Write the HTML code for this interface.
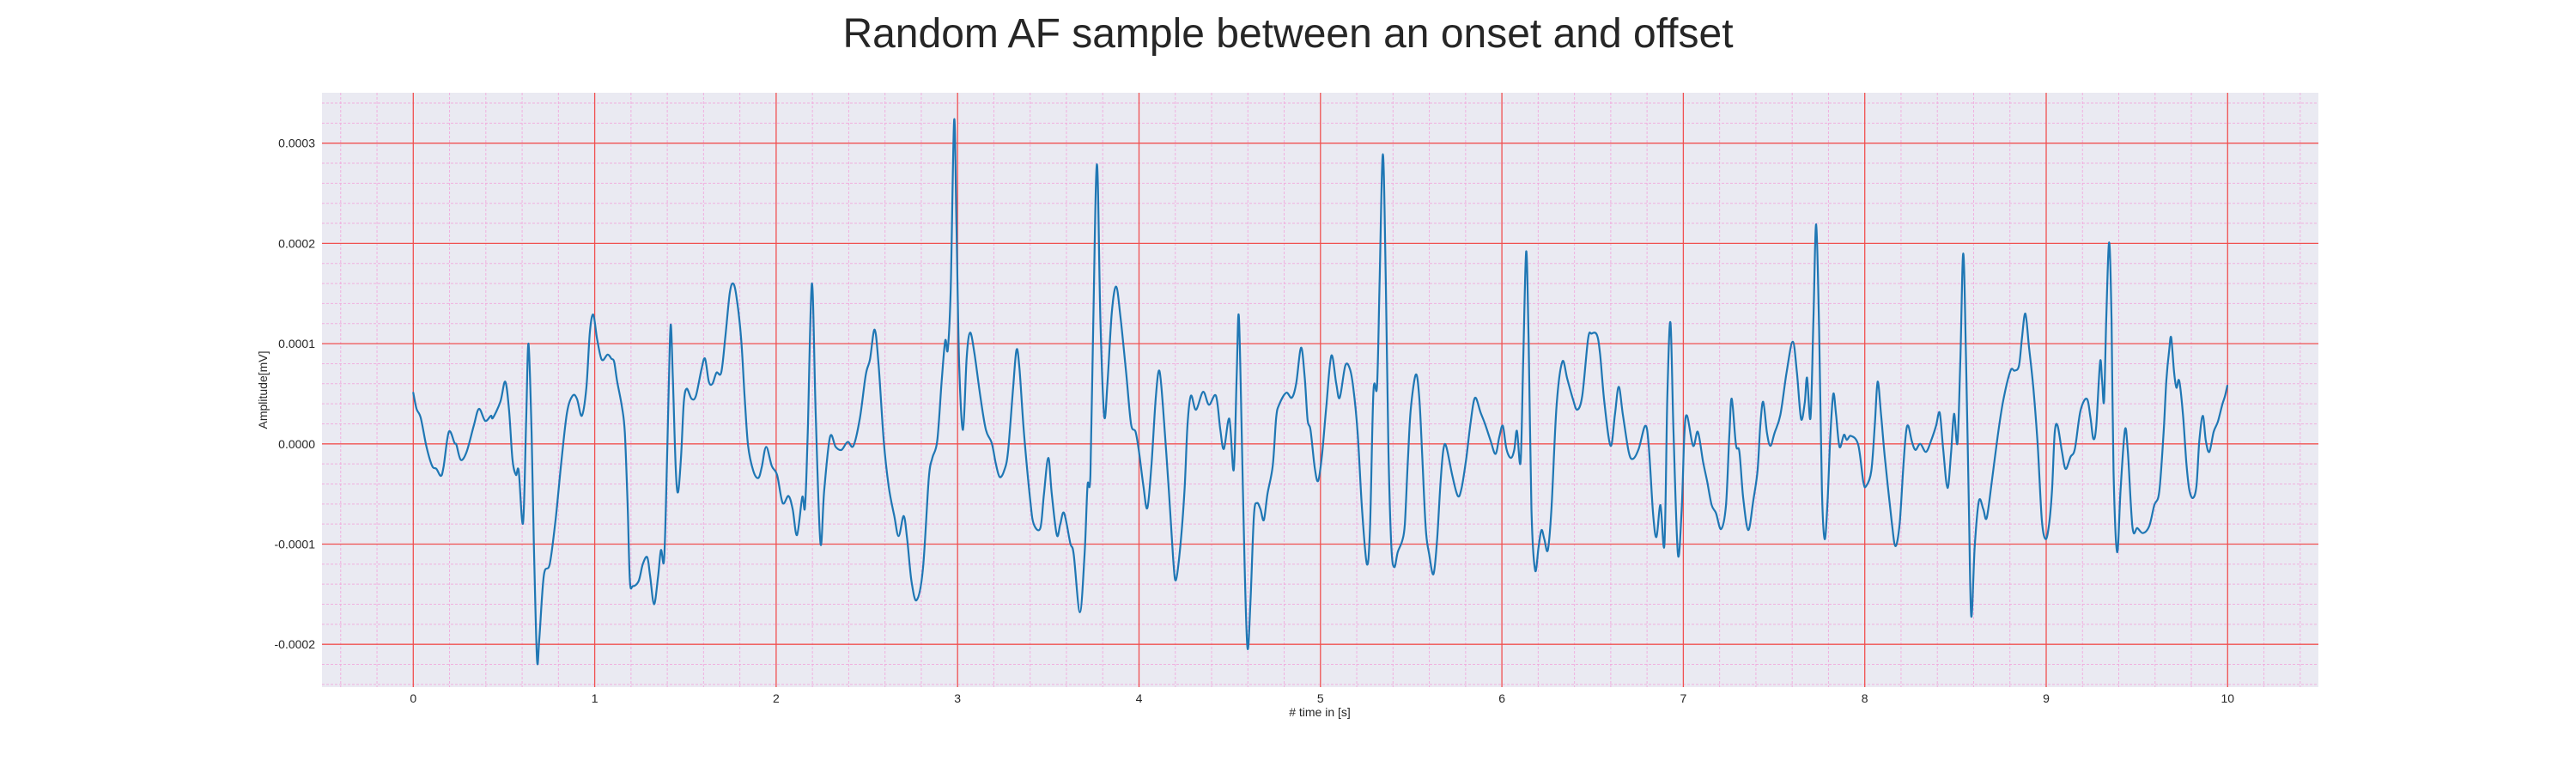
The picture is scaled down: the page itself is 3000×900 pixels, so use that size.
<!DOCTYPE html>
<html><head><meta charset="utf-8"><title>Random AF sample</title>
<style>
html,body{margin:0;padding:0;background:#fff;}
svg{display:block;font-family:"Liberation Sans",Arial,sans-serif;}
</style></head>
<body>
<svg id="chart" width="3000" height="900" viewBox="0 0 3000 900">
  <text x="1500" y="55" text-anchor="middle" font-size="48" fill="#262626">Random AF sample between an onset and offset</text>
  <rect x="375" y="108" width="2325" height="692" fill="#eaeaf2"/>
  <g id="grid"></g>
  <g id="ticks"></g>
  <g id="series"></g>
  <text x="1537" y="834" text-anchor="middle" font-size="14" fill="#262626"># time in [s]</text>
  <text x="0" y="0" transform="translate(311,454) rotate(-90)" text-anchor="middle" font-size="14" fill="#262626">Amplitude[mV]</text>
</svg>
<script>
// time in seconds
const timeS = [0,0.018,0.041,0.073,0.104,0.128,0.152,0.167,0.196,0.227,0.238,0.262,0.294,0.333,0.362,0.396,0.428,0.439,0.48,0.507,0.528,0.547,0.566,0.581,0.605,0.622,0.635,0.652,0.665,0.682,0.695,0.72,0.752,0.784,0.815,0.847,0.878,0.902,0.929,0.954,0.973,0.992,1.013,1.039,1.071,1.092,1.107,1.123,1.15,1.166,1.182,1.194,1.21,1.242,1.265,1.289,1.305,1.327,1.349,1.365,1.381,1.392,1.408,1.419,1.431,1.447,1.46,1.476,1.491,1.507,1.534,1.558,1.589,1.608,1.629,1.649,1.671,1.697,1.719,1.744,1.763,1.782,1.807,1.826,1.845,1.874,1.902,1.921,1.945,1.976,
2.005,2.036,2.068,2.091,2.115,2.144,2.159,2.174,2.197,2.218,2.244,2.265,2.297,2.328,2.36,2.394,2.426,2.462,2.494,2.517,2.543,2.565,2.593,2.62,2.651,2.675,2.703,2.722,2.746,2.774,2.809,2.841,2.861,2.888,2.912,2.932,2.946,2.962,2.981,2.994,3.009,3.03,3.05,3.069,3.093,3.125,3.156,3.188,3.211,3.232,3.256,3.278,3.306,3.325,3.341,3.366,3.401,3.42,3.456,3.476,3.5,3.519,3.547,3.566,3.587,3.621,3.64,3.674,3.7,3.716,3.732,3.748,3.768,3.787,3.808,3.826,3.85,3.874,3.897,3.929,3.956,3.981,4.0,4.024,
4.046,4.069,4.093,4.112,4.132,4.164,4.188,4.203,4.227,4.251,4.267,4.286,4.314,4.353,4.385,4.424,4.448,4.468,4.498,4.522,4.538,4.55,4.566,4.582,4.598,4.614,4.633,4.65,4.669,4.688,4.708,4.737,4.756,4.772,4.811,4.842,4.866,4.893,4.913,4.929,4.945,4.968,4.987,5.008,5.032,5.06,5.087,5.106,5.137,5.162,5.181,5.205,5.229,5.256,5.273,5.292,5.312,5.326,5.344,5.36,5.375,5.391,5.407,5.426,5.45,5.465,5.481,5.497,5.525,5.544,5.56,5.58,5.599,5.623,5.643,5.662,5.678,5.694,5.726,5.757,5.778,5.804,5.828,5.852,5.883,5.907,5.938,5.965,5.986,6.005,6.025,6.049,
6.068,6.083,6.103,6.118,6.134,6.147,6.163,6.183,6.202,6.218,6.234,6.253,6.273,6.301,6.333,6.36,6.391,6.415,6.443,6.475,6.494,6.523,6.541,6.565,6.599,6.623,6.644,6.667,6.699,6.722,6.754,6.79,6.809,6.833,6.852,6.874,6.896,6.912,6.929,6.946,6.97,6.991,7.006,7.021,7.054,7.08,7.109,7.132,7.156,7.18,7.208,7.235,7.254,7.267,7.29,7.309,7.33,7.358,7.385,7.409,7.424,7.44,7.461,7.48,7.503,7.535,7.569,7.603,7.626,7.649,7.669,7.682,7.701,7.717,7.732,7.748,7.764,7.779,7.795,7.811,7.827,7.842,7.861,7.885,7.901,7.924,7.964,7.992,8.008,8.036,8.055,8.071,8.09,8.11,
8.148,8.169,8.192,8.211,8.227,8.24,8.259,8.279,8.306,8.338,8.369,8.393,8.413,8.432,8.456,8.476,8.492,8.511,8.527,8.543,8.558,8.574,8.587,8.606,8.629,8.653,8.672,8.7,8.732,8.763,8.803,8.826,8.85,8.866,8.885,8.905,8.929,8.953,8.976,8.997,9.016,9.032,9.047,9.063,9.087,9.107,9.134,9.158,9.189,9.224,9.244,9.26,9.276,9.297,9.308,9.319,9.331,9.347,9.36,9.371,9.391,9.41,9.434,9.45,9.476,9.502,9.533,9.568,9.596,9.623,9.647,9.662,9.678,9.689,9.705,9.718,9.733,9.754,9.773,9.789,9.809,9.828,9.844,9.863,9.88,9.899,9.923,9.946,9.97,9.986,9.998];
// amplitude in units of 1e-4 mV
const ampE4 = [0.51,0.35,0.26,-0.03,-0.22,-0.25,-0.32,-0.23,0.12,0.01,-0.01,-0.16,-0.08,0.18,0.35,0.23,0.28,0.26,0.42,0.62,0.33,-0.16,-0.31,-0.27,-0.79,0.22,1.0,0.11,-1.03,-2.15,-1.93,-1.31,-1.2,-0.76,-0.2,0.31,0.48,0.45,0.28,0.56,1.11,1.29,1.05,0.84,0.89,0.85,0.82,0.63,0.37,0.11,-0.65,-1.37,-1.42,-1.37,-1.2,-1.13,-1.31,-1.6,-1.33,-1.06,-1.18,-0.65,0.56,1.19,0.63,-0.27,-0.48,-0.12,0.41,0.55,0.45,0.48,0.75,0.85,0.62,0.6,0.71,0.71,1.05,1.5,1.6,1.46,1.05,0.48,-0.01,-0.27,-0.34,-0.23,-0.03,-0.22,
-0.31,-0.59,-0.52,-0.65,-0.91,-0.53,-0.63,0.11,1.6,0.29,-0.99,-0.46,0.07,-0.03,-0.06,0.02,-0.02,0.26,0.69,0.84,1.14,0.78,0.03,-0.42,-0.72,-0.92,-0.72,-0.95,-1.37,-1.56,-1.25,-0.35,-0.14,0.03,0.62,1.03,0.94,1.54,3.23,2.18,0.78,0.14,0.86,1.11,0.9,0.48,0.14,0.01,-0.2,-0.33,-0.27,-0.08,0.56,0.94,0.75,0.11,-0.57,-0.8,-0.84,-0.5,-0.14,-0.5,-0.91,-0.8,-0.69,-0.99,-1.1,-1.68,-1.1,-0.42,-0.31,1.24,2.79,1.24,0.28,0.6,1.31,1.57,1.28,0.71,0.2,0.12,-0.08,-0.42,
-0.64,-0.2,0.48,0.73,0.37,-0.46,-1.14,-1.36,-1.03,-0.46,0.18,0.48,0.34,0.52,0.39,0.48,0.14,-0.05,0.25,-0.26,0.67,1.28,0.11,-1.22,-2.04,-1.59,-0.72,-0.59,-0.65,-0.76,-0.5,-0.22,0.26,0.39,0.51,0.46,0.6,0.96,0.67,0.24,0.14,-0.23,-0.37,-0.12,0.37,0.88,0.6,0.46,0.78,0.75,0.56,0.11,-0.65,-1.2,-0.84,0.52,0.58,1.62,2.89,1.62,-0.08,-1.03,-1.23,-1.08,-0.97,-0.8,-0.2,0.33,0.69,0.48,-0.08,-0.84,-1.1,-1.3,-0.95,-0.38,-0.05,-0.03,-0.31,-0.52,-0.44,-0.14,0.22,0.46,0.31,0.2,0.03,-0.1,0.07,0.18,-0.05,-0.14,
-0.06,0.13,-0.18,0.86,1.92,1.05,-0.65,-1.26,-1.03,-0.86,-0.95,-1.06,-0.65,0.37,0.82,0.65,0.45,0.34,0.48,1.05,1.1,1.09,0.9,0.41,-0.02,0.29,0.57,0.29,-0.08,-0.15,-0.05,0.18,-0.01,-0.69,-0.93,-0.61,-1.0,0.48,1.21,0.11,-1.1,-0.65,0.11,0.28,-0.02,0.12,-0.18,-0.38,-0.61,-0.69,-0.85,-0.61,0.11,0.45,-0.01,-0.08,-0.54,-0.86,-0.57,-0.27,0.18,0.42,0.11,-0.02,0.11,0.29,0.71,1.02,0.71,0.25,0.41,0.66,0.26,1.24,2.19,1.16,-0.46,-0.95,-0.57,0.11,0.5,0.29,-0.03,0.09,0.04,0.08,-0.01,-0.38,-0.42,-0.27,0.18,0.62,0.29,-0.12,
-0.77,-1.02,-0.8,-0.27,0.11,0.18,0.03,-0.06,0.0,-0.08,0.05,0.18,0.31,-0.05,-0.44,-0.08,0.3,0.01,0.86,1.9,0.86,-0.65,-1.72,-1.03,-0.57,-0.65,-0.74,-0.38,0.07,0.43,0.73,0.73,0.78,1.05,1.3,0.97,0.56,-0.01,-0.76,-0.95,-0.8,-0.46,0.11,0.18,-0.08,-0.25,-0.13,-0.05,0.33,0.45,0.26,0.05,0.18,0.82,0.63,0.43,1.24,2.01,1.24,-0.27,-1.08,-0.46,0.14,-0.08,-0.84,-0.84,-0.89,-0.82,-0.61,-0.48,0.11,0.63,0.94,1.06,0.71,0.56,0.63,0.29,-0.2,-0.46,-0.54,-0.42,0.03,0.28,0.03,-0.08,0.12,0.22,0.39,0.48,0.58];
const xTickLabels = ["0","1","2","3","4","5","6","7","8","9","10"];
const yTickValues = [-0.0002,-0.0001,0.0,0.0001,0.0002,0.0003];
const yTickLabels = ["-0.0002","-0.0001","0.0000","0.0001","0.0002","0.0003"];

const NS = "http://www.w3.org/2000/svg";
const PL = 375, PR = 2700, PT = 108, PB = 800;
const X0 = 481.3, XS = 211.3;
const Y0 = 516.8, YS = 116.7 / 1e-4;
const xScale = t => X0 + t * XS;
const yScale = v => Y0 - v * YS;

function mk(tag, attrs, parent) {
  const e = document.createElementNS(NS, tag);
  for (const k in attrs) e.setAttribute(k, attrs[k]);
  parent.appendChild(e);
  return e;
}
const grid = document.getElementById('grid');
const ticks = document.getElementById('ticks');
const series = document.getElementById('series');

for (let i = -2; i <= 52; i++) {
  if (i % 5 === 0) continue;
  const x = xScale(i * 0.2);
  if (x < PL || x > PR) continue;
  const l = mk('line', {x1:x, x2:x, y1:PT, y2:PB, stroke:'#f2a6dc', 'stroke-width':1, 'stroke-dasharray':'3,2', opacity:0.85}, grid);
  
  
}
for (let i = -14; i <= 20; i++) {
  if (i % 5 === 0) continue;
  const y = yScale(i * 0.2e-4);
  if (y < PT || y > PB) continue;
  const l = mk('line', {x1:PL, x2:PR, y1:y, y2:y, stroke:'#f2a6dc', 'stroke-width':1, 'stroke-dasharray':'3,2', opacity:0.85}, grid);
  
  
}
xTickLabels.forEach((lab, i) => {
  const x = xScale(parseFloat(lab));
  const l = mk('line', {x1:x, x2:x, y1:PT, y2:PB, stroke:'#f05050', 'stroke-width':1.3}, grid);
  
  
  const t = mk('text', {x:x, y:818, 'text-anchor':'middle', 'font-size':14, fill:'#262626'}, ticks);
  t.textContent = lab;
  
  
});
yTickValues.forEach((v, i) => {
  const y = yScale(v);
  const l = mk('line', {x1:PL, x2:PR, y1:y, y2:y, stroke:'#f05050', 'stroke-width':1.3}, grid);
  
  
  const t = mk('text', {x:PL - 8, y:y + 5, 'text-anchor':'end', 'font-size':14, fill:'#262626'}, ticks);
  t.textContent = yTickLabels[i];
  
  
});
// smooth series (Catmull-Rom -> cubic bezier)
const P = timeS.map((t, i) => [xScale(t), yScale(ampE4[i] * 1e-4)]);
let d = 'M' + P[0][0].toFixed(1) + ',' + P[0][1].toFixed(1);
for (let i = 0; i < P.length - 1; i++) {
  const p0 = P[Math.max(0, i - 1)], p1 = P[i], p2 = P[i + 1], p3 = P[Math.min(P.length - 1, i + 2)];
  const c1x = p1[0] + (p2[0] - p0[0]) / 6, c1y = p1[1] + (p2[1] - p0[1]) / 6;
  const c2x = p2[0] - (p3[0] - p1[0]) / 6, c2y = p2[1] - (p3[1] - p1[1]) / 6;
  d += ' C' + c1x.toFixed(1) + ',' + c1y.toFixed(1) + ' ' + c2x.toFixed(1) + ',' + c2y.toFixed(1) + ' ' + p2[0].toFixed(1) + ',' + p2[1].toFixed(1);
}
const line = mk('path', {d:d, fill:'none', stroke:'#1f77b4', 'stroke-width':2.2, 'stroke-linejoin':'round', 'stroke-linecap':'round'}, series);


</script>
</body></html>
